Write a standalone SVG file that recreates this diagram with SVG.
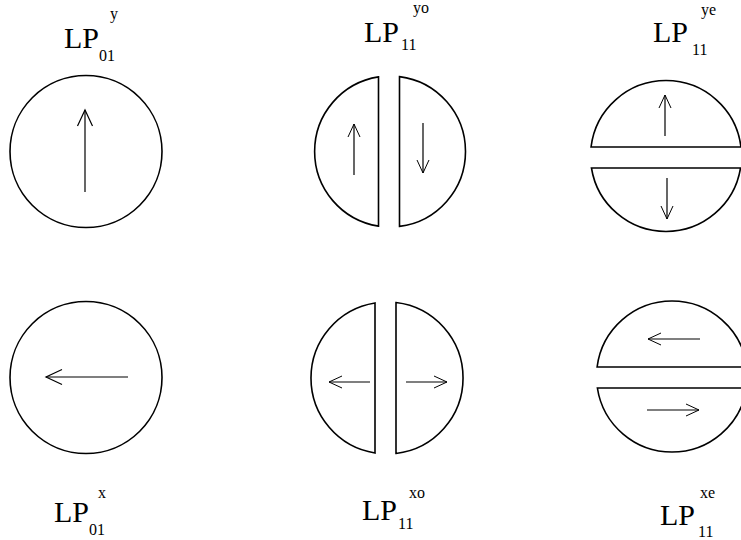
<svg xmlns="http://www.w3.org/2000/svg" width="741" height="540" viewBox="0 0 741 540">
<style>
.shape{fill:none;stroke:#000;stroke-width:1.6}
.arr{fill:none;stroke:#000;stroke-width:1.2}
.big{marker-end:url(#headBig)}
.small{marker-end:url(#headSmall)}
text{font-family:"Liberation Serif","Times New Roman",serif;fill:#000}
.lp{font-size:30px}
.sub{font-size:16px}
</style>
<defs>
<marker id="headBig" markerUnits="userSpaceOnUse" markerWidth="20" markerHeight="20" refX="0" refY="0" orient="auto" overflow="visible">
<path d="M-16,-7.5 L0,0 L-16,7.5" fill="none" stroke="#000" stroke-width="1.2"/>
</marker>
<marker id="headSmall" markerUnits="userSpaceOnUse" markerWidth="20" markerHeight="20" refX="0" refY="0" orient="auto" overflow="visible">
<path d="M-13,-6 L0,0 L-13,6" fill="none" stroke="#000" stroke-width="1"/>
</marker>
</defs>
<rect width="741" height="540" fill="#fff"/>

<g id="lp01y">
<circle class="shape" cx="86" cy="151.5" r="76"/>
<line class="arr big" x1="85" y1="192" x2="85" y2="110"/>
<text class="lp" x="64" y="48">LP</text>
<text class="sub" x="99" y="61">01</text>
<text class="sub" x="110" y="19">y</text>
</g>

<g id="lp11yo">
<path class="shape" d="M378.5,76.9 A75.5,75.5 0 0 0 378.5,226.1 Z"/>
<path class="shape" d="M399.5,76.6 A75.5,75.5 0 0 1 399.5,226.4 Z"/>
<line class="arr small" x1="354" y1="175" x2="354" y2="124"/>
<line class="arr small" x1="423" y1="123" x2="423" y2="173"/>
<text class="lp" x="364" y="42">LP</text>
<text class="sub" x="401" y="50">11</text>
<text class="sub" x="413" y="13">yo</text>
</g>

<g id="lp11ye">
<path class="shape" d="M591.04,147 A75.5,75.5 0 0 1 740.96,147 Z"/>
<path class="shape" d="M591.46,168 A75.5,75.5 0 0 0 740.54,168 Z"/>
<line class="arr small" x1="665" y1="136" x2="665" y2="95"/>
<line class="arr small" x1="667" y1="178" x2="667" y2="219"/>
<text class="lp" x="653" y="42">LP</text>
<text class="sub" x="692" y="55">11</text>
<text class="sub" x="701" y="15">ye</text>
</g>

<g id="lp01x">
<circle class="shape" cx="86" cy="377.5" r="76"/>
<line class="arr big" x1="128" y1="377" x2="46" y2="377"/>
<text class="lp" x="54" y="522">LP</text>
<text class="sub" x="89" y="535">01</text>
<text class="sub" x="98" y="498">x</text>
</g>

<g id="lp11xo">
<path class="shape" d="M375,302.95 A76,76 0 0 0 375,453.05 Z"/>
<path class="shape" d="M396,302.53 A76,76 0 0 1 396,453.47 Z"/>
<line class="arr small" x1="370" y1="382" x2="329" y2="382"/>
<line class="arr small" x1="406" y1="382" x2="447" y2="382"/>
<text class="lp" x="362" y="520">LP</text>
<text class="sub" x="398" y="529">11</text>
<text class="sub" x="409" y="498">xo</text>
</g>

<g id="lp11xe">
<path class="shape" d="M597.1,367 A75.5,75.5 0 0 1 746.9,367 Z"/>
<path class="shape" d="M597.38,388 A75.5,75.5 0 0 0 746.62,388 Z"/>
<line class="arr small" x1="700" y1="339" x2="648" y2="339"/>
<line class="arr small" x1="647" y1="410" x2="699" y2="410"/>
<text class="lp" x="660" y="525">LP</text>
<text class="sub" x="698" y="537">11</text>
<text class="sub" x="700" y="498">xe</text>
</g>

<g id="connectors"></g>
</svg>
